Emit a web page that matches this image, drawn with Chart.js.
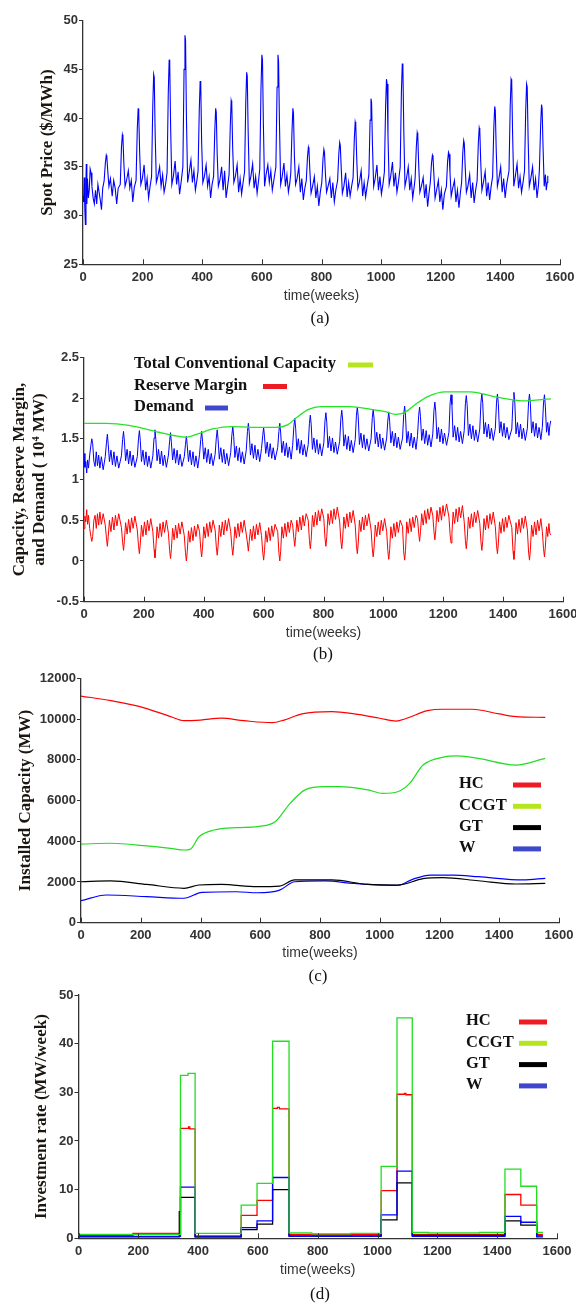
<!DOCTYPE html>
<html>
<head>
<meta charset="utf-8">
<script src="https://cdn.jsdelivr.net/npm/chart.js@4.4.1/dist/chart.umd.min.js"></script>
<style>
  body { margin: 0; background: #fff; width: 576px; height: 1304px; position: relative; overflow: hidden; }
  canvas { position: absolute; left: 0; }
  .cap { position: absolute; font: 17px "Liberation Serif", "Times New Roman", serif; color: #111; line-height: 20px; transform: translateX(-50%); }
</style>
</head>
<body>
<canvas id="chartA" width="576" height="330" style="top:0px"></canvas>
<canvas id="chartB" width="576" height="335" style="top:330px"></canvas>
<canvas id="chartC" width="576" height="320" style="top:665px"></canvas>
<canvas id="chartD" width="576" height="319" style="top:985px"></canvas>
<div class="cap" style="left:320px;top:308px">(a)</div>
<div class="cap" style="left:323px;top:644px">(b)</div>
<div class="cap" style="left:318px;top:966px">(c)</div>
<div class="cap" style="left:320px;top:1284px">(d)</div>
<script>
// ---- data: [week, value] ----
const spotPrice = [
  [0,32.0],[2,31.4],[4,33.9],[6,30.8],[8,29.1],[10,33.6],[11,35.3],[13,31.2],[15,33.8],[18,31.8],[21,32.6],[24,34.8],[27,34.4],[30,33.0],[34,31.8],[38,31.2],[42,32.6],[46,31.2],[50,33.2],[54,32.4],[58,31.6],[62,30.6],[66,32.8],
  [71,33.6],[75,35.4],[78,36.2],[80,36.0],[83,34.6],[87,33.0],[92,33.8],[98,32.0],[103,33.6],[108,32.8],[113,31.2],[118,32.8],
  [125,33.2],[129,37.0],[132,38.3],[134,38.0],[137,35.4],[141,33.0],[146,33.6],[152,34.6],[157,32.8],[162,33.6],[167,31.4],[172,32.9],
  [178,33.6],[182,38.8],[185,41.0],[187,40.4],[190,36.5],[194,33.2],[199,33.8],[205,35.2],[210,32.6],[215,33.8],[220,31.8],[225,33.0],
  [230,34.0],[234,41.2],[237,44.5],[239,44.2],[242,38.5],[246,33.4],[251,34.0],[257,35.0],[262,33.0],[267,34.2],[272,32.4],[277,33.2],
  [282,34.4],[286,42.5],[289,46.0],[291,45.4],[294,39.0],[298,33.2],[303,34.0],[309,35.6],[314,33.2],[319,34.5],[324,32.2],[329,33.4],
  [335,35.0],[339,45.0],[342,48.5],[344,48.0],[347,40.0],[351,33.4],[356,34.4],[362,35.7],[367,33.4],[372,34.6],[377,32.6],[382,33.6],
  [386,34.6],[390,40.8],[393,43.8],[395,43.4],[398,37.5],[402,33.4],[407,34.0],[413,35.2],[418,33.0],[423,34.0],[428,31.8],[433,33.2],
  [438,34.0],[442,38.6],[445,41.0],[447,40.6],[450,36.4],[454,33.0],[459,33.6],[465,35.0],[470,32.6],[475,34.6],[480,31.8],[485,33.0],
  [490,34.2],[494,39.2],[497,41.8],[499,41.5],[502,37.0],[506,33.4],[511,34.0],[517,35.2],[522,32.4],[527,33.8],[532,32.2],[537,33.4],
  [542,34.5],[546,41.6],[549,44.7],[551,44.3],[554,38.6],[558,33.3],[563,34.0],[569,35.3],[574,32.8],[579,34.0],[584,32.3],[589,33.6],
  [593,34.8],[597,43.0],[600,46.5],[602,46.0],[605,39.5],[609,33.0],[614,34.2],[620,35.2],[625,33.4],[630,34.6],[635,32.6],[640,33.6],
  [647,35.0],[651,43.2],[654,46.5],[656,45.8],[659,39.5],[663,33.2],[668,34.0],[674,35.4],[679,33.0],[684,34.2],[689,32.4],[694,33.4],
  [697,34.4],[701,38.6],[704,41.0],[706,40.5],[709,36.2],[713,33.2],[718,33.8],[724,35.0],[729,32.4],[734,33.8],[739,31.6],[744,32.8],
  [749,33.6],[753,36.0],[756,37.0],[758,36.7],[761,34.6],[765,32.3],[770,33.0],[776,34.0],[781,31.8],[786,33.0],[791,31.0],[796,32.4],
  [801,33.4],[805,35.8],[808,36.8],[810,36.5],[813,34.4],[817,32.4],[822,33.0],[828,33.8],[833,31.8],[838,33.4],[843,31.4],[848,32.6],
  [854,33.6],[858,36.3],[861,37.5],[863,37.2],[866,35.0],[870,32.3],[875,33.0],[881,34.4],[886,31.9],[891,33.4],[896,32.0],[901,33.0],
  [906,33.9],[910,37.8],[913,39.6],[915,39.3],[918,36.0],[922,32.8],[927,33.4],[933,34.6],[938,32.0],[943,33.4],[948,31.9],[953,33.0],
  [959,34.2],[963,39.8],[966,42.0],[968,41.6],[971,37.2],[975,33.0],[980,33.8],[986,35.2],[991,32.6],[996,34.0],[1001,32.2],[1006,33.2],
  [1011,34.5],[1015,41.2],[1018,44.0],[1020,43.5],[1023,38.2],[1027,33.2],[1032,34.0],[1038,35.5],[1043,33.0],[1048,34.4],[1053,32.4],[1058,33.4],
  [1064,35.0],[1068,42.6],[1071,45.6],[1073,45.2],[1076,38.8],[1080,33.0],[1085,33.8],[1091,35.0],[1096,32.6],[1101,33.8],[1106,31.8],[1111,33.0],
  [1114,33.8],[1118,37.0],[1121,38.5],[1123,38.2],[1126,35.2],[1130,32.4],[1135,33.0],[1141,33.9],[1146,31.8],[1151,33.2],[1156,30.9],[1161,32.4],
  [1165,33.4],[1169,35.4],[1172,36.2],[1174,36.0],[1177,34.2],[1181,31.8],[1186,32.6],[1192,33.6],[1197,31.4],[1202,32.6],[1207,30.6],[1212,32.2],
  [1219,33.0],[1223,35.6],[1226,36.5],[1228,36.3],[1231,34.4],[1235,32.0],[1240,32.8],[1246,33.6],[1251,31.4],[1256,32.6],[1261,30.8],[1266,32.4],
  [1270,33.4],[1274,36.5],[1277,37.7],[1279,37.4],[1282,35.0],[1286,32.4],[1291,33.0],[1297,34.2],[1302,31.8],[1307,33.4],[1312,31.3],[1317,32.6],
  [1322,33.6],[1326,37.4],[1329,39.0],[1331,38.7],[1334,35.6],[1338,32.6],[1343,33.4],[1349,34.5],[1354,32.0],[1359,33.4],[1364,31.6],[1369,33.0],
  [1374,34.0],[1378,39.0],[1381,41.2],[1383,40.8],[1386,36.8],[1390,33.0],[1395,33.8],[1401,35.0],[1406,32.4],[1411,33.8],[1416,31.8],[1421,33.2],
  [1429,34.6],[1433,41.2],[1436,44.0],[1438,43.8],[1441,38.4],[1445,33.0],[1450,34.0],[1456,35.3],[1461,32.8],[1466,34.0],[1471,32.4],[1476,33.4],
  [1481,34.6],[1485,40.8],[1488,43.5],[1490,43.2],[1493,38.0],[1497,33.0],[1502,33.8],[1508,35.0],[1513,32.6],[1518,33.8],[1523,31.8],[1528,33.2],
  [1531,34.8],[1535,39.2],[1538,41.4],[1540,41.0],[1543,37.2],[1547,33.0],[1551,34.2],[1554,32.6],[1557,33.4],[1559,34.1]
];

// panel (b), in 10^4 MW
const totalCapacity = [
  [0,1.69],[75,1.69],[150,1.665],[250,1.58],[300,1.54],[340,1.52],[380,1.56],[430,1.62],[493,1.65],[560,1.64],[640,1.64],
  [680,1.67],[710,1.76],[750,1.86],[790,1.895],[887,1.895],[960,1.86],[1010,1.83],[1040,1.80],[1070,1.82],[1110,1.93],
  [1150,2.02],[1206,2.075],[1290,2.075],[1380,2.01],[1465,1.965],[1560,1.99]
];
const demand = [
  [0,1.32],[3,1.15],[6,1.22],[9,1.08],[12,1.24],[15,1.14],[19,1.30],[23,1.42],[26,1.50],[29,1.44],[33,1.22],[37,1.16],[41,1.34],[45,1.17],[49,1.30],[53,1.14],[58,1.28],[64,1.12],
  [71,1.28],[75,1.45],[78,1.555],[81,1.43],[85,1.22],[90,1.36],[95,1.18],[100,1.34],[105,1.16],[110,1.29],[116,1.14],
  [125,1.29],[129,1.49],[132,1.59],[135,1.47],[139,1.23],[144,1.37],[149,1.19],[154,1.35],[159,1.17],[164,1.30],[170,1.15],
  [178,1.28],[182,1.50],[185,1.60],[188,1.48],[192,1.22],[197,1.36],[202,1.18],[207,1.34],[212,1.16],[217,1.29],[223,1.14],
  [230,1.29],[234,1.51],[237,1.61],[240,1.49],[244,1.23],[249,1.37],[254,1.19],[259,1.35],[264,1.17],[269,1.30],[275,1.15],
  [282,1.30],[286,1.47],[289,1.575],[292,1.45],[296,1.24],[301,1.38],[306,1.20],[311,1.36],[316,1.18],[321,1.31],[327,1.16],
  [335,1.28],[339,1.43],[342,1.53],[345,1.41],[349,1.22],[354,1.36],[359,1.18],[364,1.34],[369,1.16],[374,1.29],[380,1.14],
  [386,1.31],[390,1.49],[393,1.59],[396,1.47],[400,1.25],[405,1.39],[410,1.21],[415,1.37],[420,1.19],[425,1.32],[431,1.17],
  [438,1.31],[442,1.51],[445,1.61],[448,1.49],[452,1.25],[457,1.39],[462,1.21],[467,1.37],[472,1.19],[477,1.32],[483,1.17],
  [490,1.33],[494,1.55],[497,1.65],[500,1.53],[504,1.27],[509,1.41],[514,1.23],[519,1.39],[524,1.21],[529,1.34],[535,1.19],
  [542,1.36],[546,1.59],[549,1.69],[552,1.57],[556,1.30],[561,1.44],[566,1.26],[571,1.42],[576,1.24],[581,1.37],[587,1.22],
  [593,1.38],[597,1.54],[600,1.64],[603,1.52],[607,1.32],[612,1.46],[617,1.28],[622,1.44],[627,1.26],[632,1.39],[638,1.24],
  [647,1.39],[651,1.59],[654,1.69],[657,1.57],[661,1.33],[666,1.47],[671,1.29],[676,1.45],[681,1.27],[686,1.40],[692,1.25],
  [697,1.42],[701,1.65],[704,1.75],[707,1.63],[711,1.36],[716,1.50],[721,1.32],[726,1.48],[731,1.30],[736,1.43],[742,1.28],
  [749,1.43],[753,1.69],[756,1.79],[759,1.67],[763,1.37],[768,1.51],[773,1.33],[778,1.49],[783,1.31],[788,1.44],[794,1.29],
  [801,1.45],[805,1.72],[808,1.82],[811,1.70],[815,1.39],[820,1.53],[825,1.35],[830,1.51],[835,1.33],[840,1.46],[846,1.31],
  [854,1.47],[858,1.75],[861,1.85],[864,1.73],[868,1.41],[873,1.55],[878,1.37],[883,1.53],[888,1.35],[893,1.48],[899,1.33],
  [906,1.49],[910,1.79],[913,1.89],[916,1.77],[920,1.43],[925,1.57],[930,1.39],[935,1.55],[940,1.37],[945,1.50],[951,1.35],
  [959,1.50],[963,1.76],[966,1.86],[969,1.74],[973,1.44],[978,1.58],[983,1.40],[988,1.56],[993,1.38],[998,1.51],[1004,1.36],
  [1011,1.51],[1015,1.73],[1018,1.83],[1021,1.71],[1025,1.45],[1030,1.59],[1035,1.41],[1040,1.57],[1045,1.39],[1050,1.52],[1056,1.37],
  [1064,1.51],[1068,1.80],[1071,1.90],[1074,1.78],[1078,1.45],[1083,1.59],[1088,1.41],[1093,1.57],[1098,1.39],[1103,1.52],[1109,1.37],
  [1114,1.54],[1118,1.79],[1121,1.89],[1124,1.77],[1128,1.48],[1133,1.62],[1138,1.44],[1143,1.60],[1148,1.42],[1153,1.55],[1159,1.40],
  [1165,1.56],[1169,1.85],[1172,1.95],[1175,1.83],[1179,1.50],[1184,1.64],[1189,1.46],[1194,1.62],[1199,1.44],[1204,1.57],[1211,1.42],
  [1219,1.58],[1223,1.94],[1226,2.04],[1229,1.92],[1233,1.52],[1238,1.66],[1243,1.48],[1248,1.64],[1253,1.46],[1258,1.59],[1264,1.44],
  [1270,1.60],[1274,1.93],[1277,2.03],[1280,1.91],[1284,1.54],[1289,1.68],[1294,1.50],[1299,1.66],[1304,1.48],[1309,1.61],[1315,1.46],
  [1322,1.62],[1326,1.95],[1329,2.05],[1332,1.93],[1336,1.56],[1341,1.70],[1346,1.52],[1351,1.68],[1356,1.50],[1361,1.63],[1367,1.48],
  [1374,1.63],[1378,1.95],[1381,2.05],[1384,1.93],[1388,1.57],[1393,1.71],[1398,1.53],[1403,1.69],[1408,1.51],[1413,1.64],[1419,1.49],
  [1429,1.62],[1433,1.97],[1436,2.07],[1439,1.95],[1443,1.56],[1448,1.70],[1453,1.52],[1458,1.68],[1463,1.50],[1468,1.63],[1474,1.48],
  [1481,1.63],[1485,1.95],[1488,2.05],[1491,1.93],[1495,1.57],[1500,1.71],[1505,1.53],[1510,1.69],[1515,1.51],[1520,1.64],[1526,1.49],
  [1531,1.64],[1535,1.94],[1538,2.04],[1541,1.90],[1545,1.58],[1549,1.70],[1553,1.54],[1556,1.66],[1559,1.72]
];
const reserveMargin = [
  [0,0.40],[3,0.55],[6,0.48],[9,0.63],[12,0.45],[15,0.56],[19,0.40],[23,0.30],[26,0.24],[29,0.30],[33,0.50],[37,0.56],[41,0.40],[45,0.58],[49,0.44],[53,0.60],[58,0.45],[64,0.58],
  [71,0.44],[75,0.28],[78,0.18],[81,0.30],[85,0.50],[90,0.36],[95,0.54],[100,0.38],[105,0.56],[110,0.43],[116,0.58],
  [125,0.41],[129,0.23],[132,0.13],[135,0.25],[139,0.47],[144,0.33],[149,0.51],[154,0.35],[159,0.53],[164,0.40],[170,0.55],
  [178,0.38],[182,0.19],[185,0.09],[188,0.21],[192,0.44],[197,0.30],[202,0.48],[207,0.32],[212,0.50],[217,0.37],[223,0.52],
  [230,0.36],[234,0.14],[237,0.04],[240,0.16],[244,0.42],[249,0.28],[254,0.46],[259,0.30],[264,0.48],[269,0.35],[275,0.50],
  [282,0.34],[286,0.13],[289,0.03],[292,0.15],[296,0.40],[301,0.26],[306,0.44],[311,0.28],[316,0.46],[321,0.33],[327,0.48],
  [335,0.31],[339,0.10],[342,0.00],[345,0.12],[349,0.37],[354,0.23],[359,0.41],[364,0.25],[369,0.43],[374,0.30],[380,0.45],
  [386,0.36],[390,0.15],[393,0.05],[396,0.17],[400,0.42],[405,0.28],[410,0.46],[415,0.30],[420,0.48],[425,0.35],[431,0.50],
  [438,0.38],[442,0.17],[445,0.07],[448,0.19],[452,0.44],[457,0.30],[462,0.48],[467,0.32],[472,0.50],[477,0.37],[483,0.52],
  [490,0.36],[494,0.17],[497,0.07],[500,0.19],[504,0.42],[509,0.28],[514,0.46],[519,0.30],[524,0.48],[529,0.35],[535,0.50],
  [542,0.33],[546,0.22],[549,0.12],[552,0.24],[556,0.39],[561,0.25],[566,0.43],[571,0.27],[576,0.45],[581,0.32],[587,0.47],
  [593,0.31],[597,0.11],[600,0.01],[603,0.13],[607,0.37],[612,0.23],[617,0.41],[622,0.25],[627,0.43],[632,0.30],[638,0.45],
  [647,0.36],[651,0.10],[654,0.00],[657,0.12],[661,0.42],[666,0.28],[671,0.46],[676,0.30],[681,0.48],[686,0.35],[692,0.50],
  [697,0.44],[701,0.28],[704,0.18],[707,0.30],[711,0.50],[716,0.36],[721,0.54],[726,0.38],[731,0.56],[736,0.43],[742,0.58],
  [749,0.50],[753,0.25],[756,0.15],[759,0.27],[763,0.56],[768,0.42],[773,0.60],[778,0.44],[783,0.62],[788,0.49],[794,0.64],
  [801,0.52],[805,0.28],[808,0.18],[811,0.30],[815,0.58],[820,0.44],[825,0.62],[830,0.46],[835,0.64],[840,0.51],[846,0.66],
  [854,0.48],[858,0.25],[861,0.15],[864,0.27],[868,0.54],[873,0.40],[878,0.58],[883,0.42],[888,0.60],[893,0.47],[899,0.62],
  [906,0.44],[910,0.19],[913,0.09],[916,0.21],[920,0.50],[925,0.36],[930,0.54],[935,0.38],[940,0.56],[945,0.43],[951,0.58],
  [959,0.38],[963,0.15],[966,0.05],[969,0.17],[973,0.44],[978,0.30],[983,0.48],[988,0.32],[993,0.50],[998,0.37],[1004,0.52],
  [1011,0.36],[1015,0.12],[1018,0.02],[1021,0.14],[1025,0.42],[1030,0.28],[1035,0.46],[1040,0.30],[1045,0.48],[1050,0.35],[1056,0.50],
  [1064,0.42],[1068,0.11],[1071,0.01],[1074,0.13],[1078,0.48],[1083,0.34],[1088,0.52],[1093,0.36],[1098,0.54],[1103,0.41],[1109,0.56],
  [1114,0.52],[1118,0.34],[1121,0.24],[1124,0.36],[1128,0.58],[1133,0.44],[1138,0.62],[1143,0.46],[1148,0.64],[1153,0.51],[1159,0.66],
  [1165,0.56],[1169,0.36],[1172,0.26],[1175,0.38],[1179,0.62],[1184,0.48],[1189,0.66],[1194,0.50],[1199,0.68],[1204,0.55],[1211,0.70],
  [1219,0.54],[1223,0.32],[1226,0.22],[1229,0.34],[1233,0.60],[1238,0.46],[1243,0.64],[1248,0.48],[1253,0.66],[1258,0.53],[1264,0.68],
  [1270,0.48],[1274,0.25],[1277,0.15],[1280,0.27],[1284,0.54],[1289,0.40],[1294,0.58],[1299,0.42],[1304,0.60],[1309,0.47],[1315,0.62],
  [1322,0.46],[1326,0.23],[1329,0.13],[1332,0.25],[1336,0.52],[1341,0.38],[1346,0.56],[1351,0.40],[1356,0.58],[1361,0.45],[1367,0.60],
  [1374,0.42],[1378,0.19],[1381,0.09],[1384,0.21],[1388,0.48],[1393,0.34],[1398,0.52],[1403,0.36],[1408,0.54],[1413,0.41],[1419,0.56],
  [1429,0.41],[1433,0.12],[1436,0.02],[1439,0.14],[1443,0.47],[1448,0.33],[1453,0.51],[1458,0.35],[1463,0.53],[1468,0.40],[1474,0.55],
  [1481,0.38],[1485,0.11],[1488,0.01],[1491,0.13],[1495,0.44],[1500,0.30],[1505,0.48],[1510,0.32],[1515,0.50],[1520,0.37],[1526,0.52],
  [1531,0.36],[1535,0.15],[1538,0.05],[1541,0.17],[1545,0.42],[1549,0.30],[1553,0.46],[1556,0.34],[1559,0.32]
];

// panel (c), MW
const techLabels = ['HC', 'CCGT', 'GT', 'W'];
const hcCapacity = [[0,11130],[100,10900],[200,10600],[300,10120],[345,9920],[400,9950],[470,10040],[545,9920],[640,9820],[680,9950],[740,10250],[840,10360],[915,10250],[1000,10040],[1055,9900],[1090,10040],[1160,10410],[1210,10480],[1310,10480],[1400,10250],[1456,10120],[1554,10080]];
const ccgtCapacity = [[0,3860],[100,3900],[220,3770],[300,3650],[345,3570],[365,3600],[395,4220],[445,4550],[520,4670],[590,4720],[650,4960],[700,5860],[750,6520],[815,6680],[865,6680],[960,6520],[1010,6350],[1060,6430],[1100,6840],[1145,7740],[1210,8120],[1260,8190],[1330,8070],[1455,7740],[1554,8070]];
const gtCapacity = [[0,2010],[100,2050],[220,1880],[345,1690],[395,1850],[470,1880],[590,1770],[665,1800],[715,2100],[840,2100],[960,1880],[1060,1850],[1145,2160],[1210,2210],[1330,2060],[1455,1900],[1554,1930]];
const windCapacity = [[0,1080],[85,1360],[220,1280],[345,1200],[405,1490],[520,1520],[590,1470],[665,1600],[715,2010],[815,2050],[915,1930],[1060,1830],[1110,2130],[1170,2340],[1245,2340],[1330,2260],[1480,2100],[1554,2180]];

// panel (d), MW/week, value holds from its week to the next one
const hcRate = [[0,0.6],[182,1.0],[341,22.6],[368,22.9],[372,22.5],[390,0.5],[544,4.7],[597,7.8],[649,26.7],[665,26.9],[672,26.6],[704,0.8],[1012,9.8],[1065,29.6],[1090,29.8],[1095,29.5],[1116,0.8],[1426,9.0],[1479,6.8],[1532,0.8],[1553,0.8]];
const ccgtRate = [[0,0.8],[341,33.5],[366,33.9],[390,1.0],[544,6.8],[597,11.3],[649,40.5],[704,1.1],[780,0.9],[910,1.0],[1012,14.8],[1065,45.3],[1116,1.2],[1170,1.1],[1340,1.2],[1426,14.2],[1479,10.7],[1532,1.2],[1553,1.2]];
const gtRate = [[0,0.3],[337,5.5],[341,8.4],[390,0.3],[544,1.8],[597,2.9],[649,10.0],[704,0.5],[1012,3.8],[1065,11.4],[1116,0.6],[1426,3.6],[1479,2.7],[1532,0.5],[1553,0.5]];
const windRate = [[0,0.4],[341,10.5],[390,0.3],[544,2.2],[597,3.6],[649,12.5],[704,0.4],[1012,4.8],[1065,13.8],[1116,0.4],[1426,4.5],[1479,3.3],[1532,0.3],[1553,0.3]];

// ---- drawing ----
const SERIF = '"Liberation Serif", "Times New Roman", serif';
const SANS = '"Liberation Sans", Arial, sans-serif';
const AXIS = '#333';

const xy = (pairs) => pairs.map(([x, y]) => ({ x, y }));

// x ticks point up into the plot
const innerTicks = {
  id: 'innerTicks',
  afterDraw(chart) {
    const s = chart.scales.x, a = chart.chartArea, ctx = chart.ctx;
    ctx.save();
    ctx.strokeStyle = AXIS;
    ctx.lineWidth = 1;
    s.ticks.forEach((t) => {
      const px = Math.round(s.getPixelForValue(t.value)) + 0.5;
      ctx.beginPath();
      ctx.moveTo(px, a.bottom);
      ctx.lineTo(px, a.bottom - 5);
      ctx.stroke();
    });
    ctx.restore();
  },
};

// legend as in the figure: label text, then a thick colour bar
function textLegend(items, textX, y0, dy) {
  return {
    id: 'textLegend',
    afterDraw(chart) {
      const ctx = chart.ctx;
      ctx.save();
      ctx.font = 'bold 16.5px ' + SERIF;
      ctx.textBaseline = 'middle';
      items.forEach((it, i) => {
        const y = y0 + i * dy;
        ctx.fillStyle = '#111';
        ctx.fillText(it.label, textX, y);
        ctx.strokeStyle = it.color;
        ctx.lineWidth = 5;
        ctx.beginPath();
        ctx.moveTo(it.x0, y + 1);
        ctx.lineTo(it.x1, y + 1);
        ctx.stroke();
      });
      ctx.restore();
    },
  };
}

function makeChart(id, box, datasets, yCfg, extra) {
  const cv = document.getElementById(id);
  const H = cv.height;
  return new Chart(cv, {
    type: 'line',
    data: { datasets },
    options: {
      responsive: false,
      animation: false,
      events: [],
      layout: { padding: { left: box.padLeft, right: 576 - box.right, top: box.top, bottom: H - box.bottom - box.xh } },
      plugins: { legend: { display: false }, tooltip: { enabled: false } },
      elements: { point: { radius: 0 } },
      scales: {
        x: {
          type: 'linear', min: 0, max: 1600,
          ticks: { stepSize: 200, maxRotation: 0, padding: -3, color: AXIS, font: { family: SANS, size: 13, weight: 'bold' }, callback: (v) => String(v) },
          grid: { display: false },
          border: { display: true, color: AXIS, width: 1.3 },
          title: { display: true, text: 'time(weeks)', color: AXIS, padding: 0, font: { family: SANS, size: 14 } },
          afterFit(s) { s.height = box.xh; s.paddingLeft = 0; s.paddingRight = 0; },
        },
        y: {
          min: yCfg.min, max: yCfg.max,
          ticks: { stepSize: yCfg.step, padding: 1, color: AXIS, font: { family: SANS, size: 13, weight: 'bold' }, callback: yCfg.fmt },
          grid: { drawOnChartArea: false, drawTicks: true, tickLength: 4, color: AXIS },
          border: { display: true, color: AXIS, width: 1.3 },
          title: { display: true, text: yCfg.title, color: '#1c1610', padding: 0, font: { family: SERIF, size: 17, weight: 'bold' } },
          afterFit(s) { s.width = box.left - box.padLeft; s.paddingTop = 0; s.paddingBottom = 0; },
        },
      },
    },
    plugins: [innerTicks].concat(extra || []),
  });
}

const line = (label, data, color, width, extra) =>
  Object.assign({ label, data: xy(data), borderColor: color, borderWidth: width, fill: false, tension: 0 }, extra || {});
const smooth = { cubicInterpolationMode: 'monotone' };

// (a) spot price
makeChart('chartA',
  { padLeft: 37, left: 83, right: 560, top: 20.7, bottom: 264.3, xh: 40 },
  [line('Spot Price', spotPrice, '#0000ff', 1.1)],
  { min: 25, max: 50, step: 5, title: 'Spot Price ($/MWh)', fmt: (v) => String(v) });

// (b) capacity, reserve margin and demand
makeChart('chartB',
  { padLeft: 9, left: 84, right: 563, top: 27.3, bottom: 271.7, xh: 40 },
  [
    line('Total Conventional Capacity', totalCapacity, '#22e622', 1.3, smooth),
    line('Reserve Margin', reserveMargin, '#ff0000', 1),
    line('Demand', demand, '#0000ff', 1),
  ],
  { min: -0.5, max: 2.5, step: 0.5, title: ['Capacity, Reserve Margin,', 'and Demand ( 10\u2074 MW)'], fmt: (v) => String(Math.round(v * 10) / 10) },
  [textLegend([
    { label: 'Total Conventional Capacity', color: '#b5e61d', x0: 348, x1: 373 },
    { label: 'Reserve Margin', color: '#ed1c24', x0: 263, x1: 287 },
    { label: 'Demand', color: '#3f48cc', x0: 205, x1: 228 },
  ], 134, 34, 21.5)]);

// (c) installed capacity
const techColors = ['#ff0000', '#22dd22', '#000000', '#0000ff'];
const legendColors = ['#ed1c24', '#b5e61d', '#000000', '#3f48cc'];
const techOrder = [3, 0, 2, 1]; // CCGT drawn on top, HC underneath
makeChart('chartC',
  { padLeft: 15, left: 81, right: 559, top: 13.3, bottom: 257.7, xh: 38.7 },
  [hcCapacity, ccgtCapacity, gtCapacity, windCapacity].map((d, i) => line(techLabels[i], d, techColors[i], 1.2, smooth)),
  { min: 0, max: 12000, step: 2000, title: 'Installed Capacity (MW)', fmt: (v) => String(v) },
  [textLegend(techLabels.map((l, i) => ({ label: l, color: legendColors[i], x0: 513, x1: 541 })), 459, 119, 21.3)]);

// (d) investment rate
makeChart('chartD',
  { padLeft: 31, left: 78.5, right: 557, top: 10, bottom: 253.3, xh: 40 },
  [hcRate, ccgtRate, gtRate, windRate].map((d, i) => line(techLabels[i], d, techColors[i], 1.3, { stepped: true, order: techOrder[i] })),
  { min: 0, max: 50, step: 10, title: 'Investment rate (MW/week)', fmt: (v) => String(v) },
  [textLegend(techLabels.map((l, i) => ({ label: l, color: legendColors[i], x0: 519, x1: 547 })), 466, 36, 21.3)]);
</script>
</body>
</html>
